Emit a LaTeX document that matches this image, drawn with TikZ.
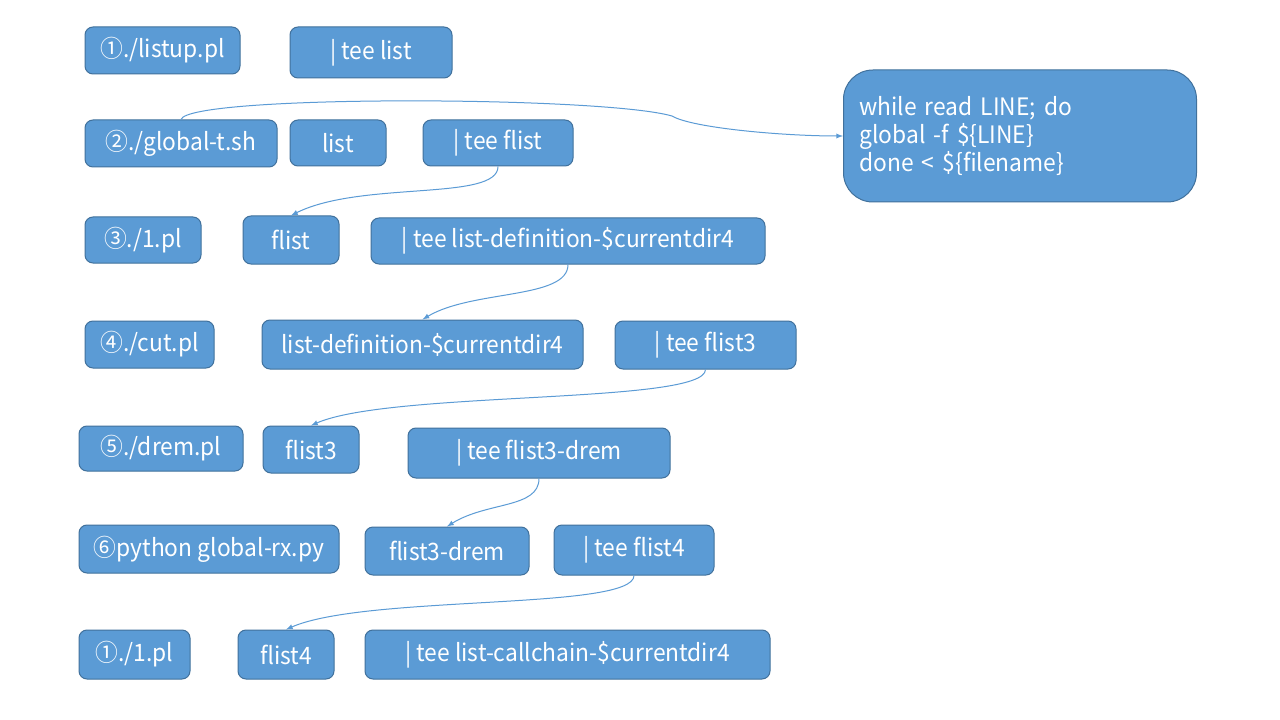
\documentclass[tikz,border=0pt]{standalone}
\usepackage{fontspec}
\setmainfont{Noto Sans CJK JP}[FakeStretch=0.95]
\usepackage{xcolor}
\usetikzlibrary{arrows}

\definecolor{boxfill}{HTML}{5B9BD5}
\definecolor{boxline}{HTML}{41719C}

\begin{document}
\begin{tikzpicture}[x=0.75pt, y=-0.75pt,
    box/.style={draw=boxline, fill=boxfill, text=white, line width=0.75pt,
      rounded corners=6pt, inner sep=0pt, font=\fontsize{18}{21}\selectfont},
    link/.style={draw=boxfill, line width=0.75pt, ->, >=latex}]

      \fill[white] (0,0) rectangle (1280,720);
      \useasboundingbox (0,0) rectangle (1280,720);

      % row 1
      \node[box, minimum width=116.25pt, minimum height=35.25pt] (a1) at (162.5,50.5) {①./listup.pl};
      \node[box, minimum width=121.5pt, minimum height=38.25pt] (a1t) at (371,52.5) {| tee list};

      % row 2
      \node[box, minimum width=144pt, minimum height=35.25pt] (a2) at (181,143.5) {②./global-t.sh};
      \node[box, minimum width=72pt, minimum height=34.5pt] (a2l) at (338,143) {list};
      \node[box, minimum width=112.5pt, minimum height=34.5pt] (a2t) at (498,143) {| tee flist};

      \node[box, anchor=west, align=left, minimum height=99pt, text width=240.75pt,
        inner xsep=12pt, rounded corners=22pt] (loop) at (843,136)
        {while read LINE; do\\global -f \$\{LINE\}\\done < \$\{filename\}};

      % row 3
      \node[box, minimum width=87pt, minimum height=34.5pt] (a3) at (143,240) {③./1.pl};
      \node[box, minimum width=72pt, minimum height=36pt] (a3f) at (291,240) {flist};
      \node[box, minimum width=295.5pt, minimum height=34.5pt] (a3t) at (568,241) {| tee list-definition-\$currentdir4};

      % row 4
      \node[box, minimum width=96.75pt, minimum height=35.25pt] (a4) at (149.5,344.5) {④./cut.pl};
      \node[box, minimum width=240.75pt, minimum height=36.75pt] (a4l) at (422.5,344.5) {list-definition-\$currentdir4};
      \node[box, minimum width=135.75pt, minimum height=36pt] (a4t) at (705.5,345) {| tee flist3};

      % row 5
      \node[box, minimum width=123pt, minimum height=33.75pt] (a5) at (161,448.5) {⑤./drem.pl};
      \node[box, minimum width=72pt, minimum height=35.25pt] (a5f) at (311,449.5) {flist3};
      \node[box, minimum width=196.5pt, minimum height=37.5pt] (a5t) at (539,453) {| tee flist3-drem};

      % row 6
      \node[box, minimum width=195pt, minimum height=36pt] (a6) at (209,549) {⑥python global-rx.py};
      \node[box, minimum width=123pt, minimum height=36pt] (a6f) at (447,551) {flist3-drem};
      \node[box, minimum width=120pt, minimum height=37.5pt] (a6t) at (634,550) {| tee flist4};

      % row 7
      \node[box, minimum width=83.25pt, minimum height=36.75pt] (a7) at (134.5,654.5) {①./1.pl};
      \node[box, minimum width=72pt, minimum height=36.75pt] (a7f) at (286,654.5) {flist4};
      \node[box, minimum width=303.75pt, minimum height=36.75pt] (a7t) at (567.5,654.5) {| tee list-callchain-\$currentdir4};

      % connectors
      \coordinate (bend) at (672,116);
      \draw[link] (a2.north) .. controls +(8,-25) and +(-70,-20) .. (bend)
        .. controls +(20,12) and +(-60,0) .. (loop.west);

      \draw[link] (a2t.south) .. controls +(0,35) and +(70,-35) .. (a3f.north);
      \draw[link] (a3t.south) .. controls +(0,35) and +(50,-30) .. (a4l.north);
      \draw[link] (a4t.south) .. controls +(0,35) and +(80,-35) .. (a5f.north);
      \draw[link] (a5t.south) .. controls +(0,30) and +(40,-25) .. (a6f.north);
      \draw[link] (a6t.south) .. controls +(0,35) and +(80,-35) .. (a7f.north);
    \end{tikzpicture}
\end{document}
